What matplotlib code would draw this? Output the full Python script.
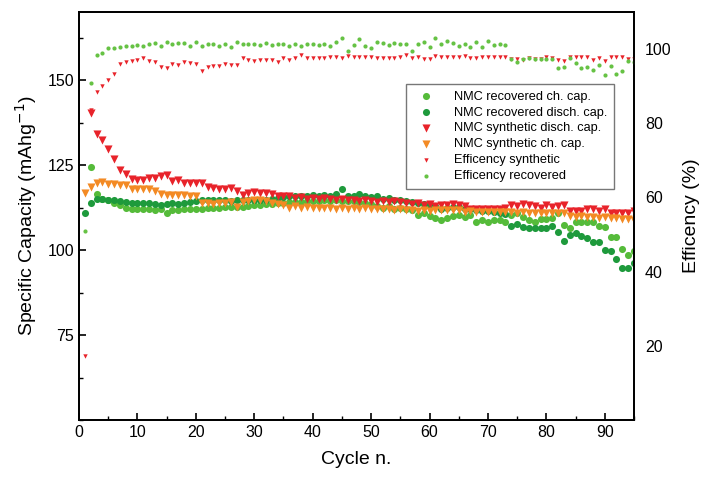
import numpy as np
import matplotlib.pyplot as plt
from matplotlib.ticker import MultipleLocator

plt.rcParams['font.family'] = ['Liberation Sans', 'DejaVu Sans']

# Datos (ciclo 1..95)
cycles = np.arange(1, 96)

# NMC sintetico, carga (naranja), ciclos 1-95
syn_ch = [116.9, 118.5, 119.7, 119.9, 119.5, 119.3, 119.0, 119.0, 118.0, 118.0,
          118.0, 118.0, 117.5, 116.6, 116.3, 116.1, 116.1, 116.1, 115.9, 115.9,
          113.7, 113.7, 113.4, 113.7, 113.7, 114.0, 112.7, 114.0, 114.3, 114.6,
          114.6, 114.3, 113.8, 113.5, 113.2, 112.4, 112.8, 112.4, 112.6, 112.3,
          112.5, 112.3, 112.5, 112.2, 112.4, 112.2, 112.4, 112.1, 112.3, 112.2,
          112.0, 112.2, 112.0, 111.9, 112.1, 111.9, 111.8, 111.6, 111.8, 111.5,
          111.7, 111.7, 111.7, 111.8, 111.8, 111.3, 111.4, 111.2, 111.3, 111.2,
          111.3, 111.2, 111.3, 111.3, 111.0, 111.1, 110.9, 111.0, 110.9, 111.0,
          110.9, 111.0, 110.8, 110.0, 109.8, 109.9, 109.6, 109.8, 109.5, 109.6,
          109.3, 109.4, 109.2, 109.0, 108.9]

# NMC sintetico, descarga (rojo), ciclos 2-95
syn_dis = [140.3, 134.0, 132.4, 129.6, 126.7, 123.6, 122.4, 120.9, 120.7, 120.7,
           121.2, 121.2, 121.8, 122.0, 120.3, 120.5, 119.7, 119.7, 119.7, 119.7,
           118.5, 118.2, 118.0, 117.8, 118.2, 117.5, 116.1, 116.9, 117.2, 116.9,
           116.9, 116.4, 115.8, 116.0, 115.8, 115.3, 115.5, 115.1, 115.3, 115.0,
           115.2, 115.0, 114.8, 115.0, 114.6, 114.8, 114.5, 114.7, 114.4, 114.2,
           114.5, 114.0, 114.3, 114.0, 113.8, 113.5, 113.7, 113.2, 113.4, 113.0,
           113.2, 113.2, 113.4, 113.2, 113.0, 112.2, 112.0, 112.2, 112.2, 112.2,
           112.2, 112.4, 113.2, 113.0, 113.4, 113.2, 113.0, 112.4, 113.2, 112.7,
           113.0, 113.2, 111.4, 111.4, 111.4, 112.0, 112.0, 111.4, 112.0, 110.8,
           110.8, 110.8, 110.8, 111.4]

# NMC recuperado, descarga (verde oscuro), ciclos 1-95
rec_dis = [111.0, 113.9, 115.1, 115.1, 114.8, 114.6, 114.3, 114.1, 113.9, 113.9,
           113.7, 113.7, 113.5, 113.2, 113.4, 113.7, 113.5, 113.9, 114.1, 114.3,
           114.6, 114.6, 114.6, 114.6, 114.6, 114.3, 114.8, 114.8, 114.8, 114.8,
           114.8, 114.8, 115.0, 115.3, 115.5, 115.8, 116.0, 115.8, 116.0, 116.2,
           116.0, 116.2, 116.0, 116.4, 118.0, 116.0, 115.8, 116.5, 116.0, 115.5,
           115.8, 115.0, 115.3, 114.8, 114.6, 114.4, 114.0, 113.8, 113.5, 113.2,
           113.0, 112.0, 112.4, 112.7, 112.7, 112.2, 112.0, 111.8, 111.6, 111.4,
           111.2, 111.0, 110.5, 107.2, 107.6, 106.9, 106.6, 106.6, 106.6, 106.4,
           107.2, 105.4, 102.7, 104.5, 104.9, 104.0, 103.5, 102.3, 102.3, 100.1,
           99.6, 97.5, 94.8, 94.8, 96.2]

# NMC recuperado, carga (verde claro), ciclos 2-95
rec_ch = [124.3, 116.6, 115.1, 114.6, 113.9, 113.2, 112.4, 112.2, 112.2, 112.2,
          112.0, 111.7, 112.2, 111.0, 111.7, 111.7, 112.0, 112.2, 112.2, 112.2,
          112.4, 112.4, 112.4, 112.7, 112.7, 112.7, 112.7, 112.9, 113.2, 113.2,
          113.4, 113.5, 113.7, 113.9, 114.0, 114.2, 114.0, 114.3, 114.5, 114.3,
          114.6, 114.4, 114.7, 114.5, 114.3, 114.5, 114.0, 113.8, 113.5, 113.0,
          112.5, 112.8, 112.0, 112.5, 112.2, 111.8, 110.4, 110.8, 110.0, 109.3,
          108.8, 109.3, 110.1, 110.3, 109.8, 110.3, 108.3, 108.8, 108.1, 108.8,
          108.8, 108.3, 110.3, 111.0, 109.8, 108.8, 108.3, 109.1, 109.1, 109.5,
          110.8, 107.4, 106.5, 108.3, 108.1, 108.3, 108.1, 107.2, 106.9, 103.7,
          103.7, 100.4, 98.5, 99.8]

# Eficiencia (%), ciclos 1-95
eff_syn = [17.2, 83.6, 88.4, 90.0, 91.7, 93.4, 96.0, 96.6, 96.9, 97.1,
           97.5, 96.9, 96.5, 95.1, 95.0, 96.0, 95.7, 96.4, 96.2, 95.9,
           94.2, 95.3, 95.4, 95.4, 95.9, 95.8, 95.6, 97.5, 97.1, 96.9,
           97.1, 97.1, 97.1, 96.6, 97.5, 97.1, 97.7, 98.4, 97.5, 97.5,
           97.5, 97.5, 97.8, 97.8, 97.7, 98.2, 97.8, 97.8, 97.8, 97.8,
           97.7, 97.5, 97.5, 97.5, 98.0, 98.4, 97.7, 97.8, 97.3, 97.3,
           98.2, 97.8, 97.8, 97.8, 97.8, 98.1, 97.7, 97.7, 98.0, 98.0,
           98.0, 97.8, 97.8, 97.3, 97.3, 97.1, 97.5, 97.3, 97.3, 97.8,
           97.5, 97.1, 96.8, 97.8, 97.8, 97.8, 97.8, 97.0, 97.7, 96.8,
           97.8, 97.8, 97.8, 97.3, 97.3]

eff_rec = [51.0, 90.9, 98.4, 99.0, 100.2, 100.4, 100.5, 100.9, 100.9, 101.1,
           100.9, 101.3, 101.6, 100.7, 102.0, 101.3, 101.6, 101.6, 100.9, 101.8,
           100.8, 101.3, 101.3, 100.8, 101.4, 100.5, 101.8, 101.3, 101.4, 101.3,
           101.1, 101.6, 101.1, 101.4, 101.3, 100.7, 101.4, 100.9, 101.4, 101.3,
           101.1, 101.3, 100.9, 102.0, 102.9, 99.6, 101.1, 102.6, 100.8, 100.4,
           101.9, 101.6, 101.1, 101.6, 101.4, 101.4, 99.5, 101.3, 102.0, 100.5,
           102.9, 101.4, 102.3, 101.7, 100.8, 101.4, 100.5, 102.0, 100.5, 102.3,
           101.1, 101.4, 101.1, 97.2, 96.6, 97.2, 97.7, 97.2, 97.2, 97.2,
           97.2, 94.8, 95.3, 97.7, 96.3, 95.0, 95.1, 94.3, 95.7, 93.0,
           95.5, 93.4, 94.1, 96.8, 96.6]

c_light = '#55bb3a'
c_dark = '#1e9a3c'
c_red = '#e8232a'
c_orange = '#f38a24'

fig = plt.figure(figsize=(7.01, 4.80), dpi=100)
ax = fig.add_axes([0.1127, 0.125, 0.7917, 0.85])
ax2 = ax.twinx()

h1 = ax.scatter(cycles[1:], rec_ch, s=26, color=c_light, linewidths=0, label='NMC recovered ch. cap.')
h2 = ax.scatter(cycles, rec_dis, s=26, color=c_dark, linewidths=0, label='NMC recovered disch. cap.')
h3 = ax.scatter(cycles[1:], syn_dis, s=34, marker='v', color=c_red, linewidths=0, label='NMC synthetic disch. cap.')
h4 = ax.scatter(cycles, syn_ch, s=34, marker='v', color=c_orange, linewidths=0, label='NMC synthetic ch. cap.')
h5 = ax2.scatter(cycles, eff_syn, s=10, marker='v', color=c_red, linewidths=0, label='Efficency synthetic')
h6 = ax2.scatter(cycles, eff_rec, s=9, color='#66c244', linewidths=0, label='Efficency recovered')

ax.set_xlim(0, 95)
ax.set_ylim(50, 170)
ax2.set_ylim(0, 110)

ax.xaxis.set_major_locator(MultipleLocator(10))
ax.xaxis.set_minor_locator(MultipleLocator(5))
ax.set_yticks([75, 100, 125, 150])
ax.yaxis.set_minor_locator(MultipleLocator(12.5))
ax2.set_yticks([20, 40, 60, 80, 100])

ax.tick_params(which='major', direction='in', length=5, width=1.2, labelsize=11.5, top=False, right=False)
ax.tick_params(which='minor', direction='in', length=3, width=1.0, top=False, right=False)
ax2.tick_params(axis='y', which='both', length=0, labelsize=11.5, pad=8)

for a in (ax, ax2):
    for sp in a.spines.values():
        sp.set_linewidth(1.3)

ax.set_xlabel('Cycle n.', fontsize=14, labelpad=8)
ax.set_ylabel('Specific Capacity (mAhg$^{-1}$)', fontsize=14, labelpad=6)
ax2.set_ylabel('Efficency (%)', fontsize=14, labelpad=8)

leg = ax2.legend(handles=[h1, h2, h3, h4, h5, h6], loc='upper left',
                 bbox_to_anchor=(0.578, 0.84), fontsize=9.2, frameon=True,
                 fancybox=False, edgecolor='#555555', labelspacing=0.3,
                 handletextpad=1.2, borderpad=0.55, scatterpoints=1)
leg.get_frame().set_linewidth(1.0)

fig.savefig('out.png', dpi=100)
